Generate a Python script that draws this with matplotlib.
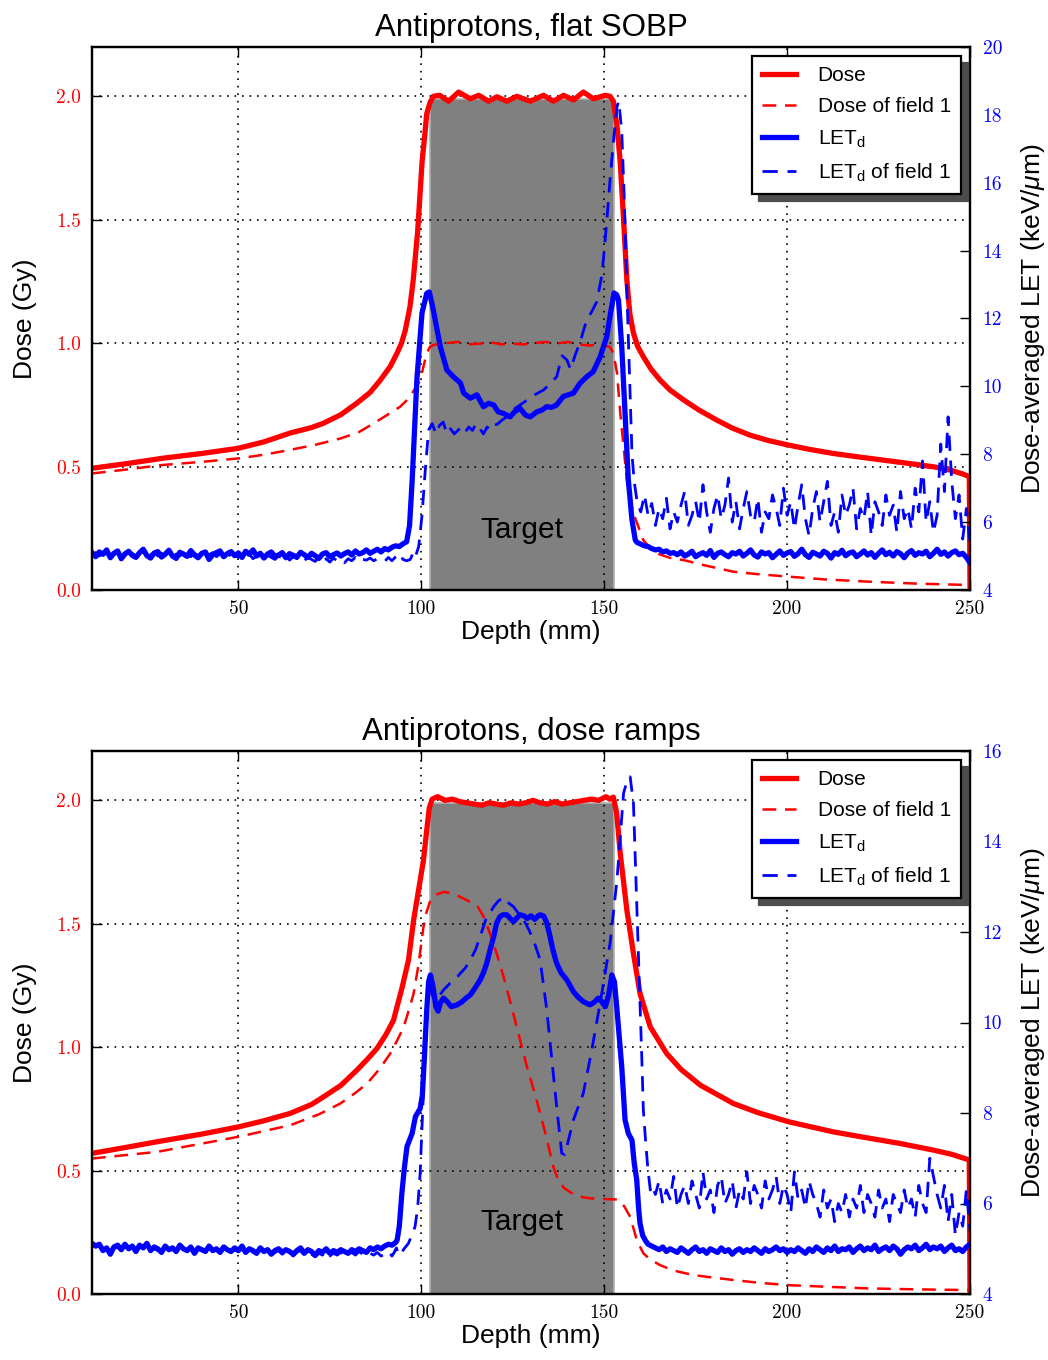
import numpy as np
import matplotlib
matplotlib.use("Agg")
from matplotlib import pyplot as plt
from matplotlib.patches import Shadow

# ---------------- top panel: flat SOBP ----------------
dose_top_depth = [10, 20, 29.5, 40, 50, 57, 64.2, 70, 73.2, 78, 82.4, 86, 88.8, 91.5, 93.4,
                  94.6, 95.6, 96.9, 97.8, 99.0, 100.2, 101.0, 101.5, 102.4, 103.3, 105.0, 107.5,
                  110.2, 113.4, 115.7, 118.4, 120.7, 123.4, 126.1, 129.8, 133.4, 136.1, 138.9,
                  141.6, 144.3, 147.1, 150.3, 151.6, 152.5, 153.5, 154.4, 155.3, 156.2, 157.0,
                  158.0, 159.2, 160.7, 162.8, 165.3, 168.0, 171.7, 176.0, 180.8, 185.0, 189.9,
                  195.0, 200.4, 206.0, 212.6, 219.0, 226.3, 233.0, 240.0, 244.5, 248.0, 249.8, 250.0]
dose_top = [0.493, 0.513, 0.534, 0.553, 0.574, 0.600, 0.636, 0.658, 0.675, 0.71, 0.757, 0.80,
            0.85, 0.905, 0.96, 1.00, 1.05, 1.146, 1.255, 1.45, 1.73, 1.85, 1.93, 1.975, 2.0,
            2.004, 1.98, 2.017, 1.99, 2.004, 1.98, 1.998, 1.98, 2.0, 1.98, 2.004, 1.98, 2.004,
            1.985, 2.017, 1.99, 2.004, 2.0, 1.98, 1.88, 1.73, 1.50, 1.255, 1.12, 1.04, 0.985,
            0.945, 0.895, 0.85, 0.81, 0.77, 0.728, 0.688, 0.656, 0.627, 0.605, 0.587, 0.570,
            0.553, 0.540, 0.526, 0.513, 0.499, 0.486, 0.470, 0.459, 0.0]

dose1_top_depth = [10, 20, 29, 40, 50, 57, 64, 71, 78, 83, 87, 91, 94.2, 96.5, 98.5, 99.7, 100.6,
                   101.5, 102.4, 103.3, 105, 107, 110, 113, 116, 119, 122, 125, 128, 131, 134,
                   137, 140, 143, 146, 148, 150, 151.5, 152.5, 153.5, 154.4, 155.3, 156.2, 157,
                   158, 159.5, 160.7, 162.6, 165, 168, 171.7, 178, 185.3, 192, 200.4, 210, 221.8,
                   235, 250]
dose1_top = [0.472, 0.489, 0.506, 0.519, 0.533, 0.548, 0.567, 0.588, 0.614, 0.640, 0.675, 0.712,
             0.742, 0.775, 0.82, 0.85, 0.905, 0.96, 0.985, 0.992, 0.998, 1.0, 1.005, 0.995,
             0.998, 1.003, 0.995, 0.998, 0.995, 1.0, 1.005, 0.998, 1.005, 0.995, 0.99, 0.995,
             0.99, 0.985, 0.96, 0.88, 0.716, 0.58, 0.445, 0.37, 0.31, 0.25, 0.202, 0.17, 0.145,
             0.13, 0.121, 0.098, 0.074, 0.064, 0.054, 0.043, 0.034, 0.026, 0.02]

# LET_d, 1 mm steps before (10..96) and after (159..250) the target
let_top_left = [5.10, 4.98, 5.12, 5.05, 5.18, 4.95, 5.08, 5.15, 4.92, 5.06,
                5.14, 5.02, 4.96, 5.10, 5.20, 5.01, 4.94, 5.09, 5.13, 4.97,
                5.05, 5.17, 5.00, 4.93, 5.11, 5.06, 4.99, 5.16, 5.03, 4.95,
                5.08, 5.12, 4.90, 5.04, 5.10, 5.15, 4.98, 5.07, 5.13, 5.01,
                5.09, 4.96, 5.14, 5.05, 5.18, 5.00, 5.08, 4.94, 5.06, 5.12,
                4.99, 5.03, 5.10, 4.95, 5.07, 5.02, 4.97, 5.11, 5.04, 4.96,
                5.08, 5.01, 4.93, 5.06, 5.10, 4.98, 5.04, 5.09, 5.00, 5.07,
                5.12, 5.03, 5.15, 5.06, 5.10, 5.18, 5.08, 5.14, 5.20, 5.12,
                5.22, 5.18, 5.26, 5.30, 5.28, 5.36, 5.42]
let_top_mid_depth = [96.8, 97.5, 98.8, 100.2, 101.5, 102.2, 103.0, 103.8, 105.2, 107.0, 108.8,
                     110.7, 111.6, 113.4, 115.2, 117.0, 118.4, 119.8, 121.0, 122.5, 124.3, 125.5,
                     127.0, 128.5, 129.8, 131.6, 133.0, 134.3, 135.6, 137.0, 138.8, 140.2, 141.6,
                     143.4, 145.2, 147.0, 148.9, 150.7, 151.8, 152.7, 153.4, 153.9, 154.8, 155.7,
                     156.6, 157.6, 158.5]
let_top_mid = [5.9, 7.2, 10.2, 12.16, 12.74, 12.78, 12.4, 11.96, 11.17, 10.48, 10.28, 10.1, 9.8,
               9.65, 9.75, 9.4, 9.5, 9.45, 9.25, 9.2, 9.1, 9.25, 9.35, 9.15, 9.1, 9.25, 9.3, 9.4,
               9.38, 9.45, 9.7, 9.75, 9.8, 10.09, 10.28, 10.43, 10.87, 11.46, 12.2, 12.75, 12.7,
               12.55, 11.17, 9.2, 7.24, 6.06, 5.47]
let_top_right = [5.40, 5.35, 5.30, 5.28, 5.22, 5.18, 5.20, 5.12, 5.15, 5.08,
                 5.10, 5.04, 5.12, 5.00, 5.06, 5.14, 4.98, 5.05, 5.10, 5.02,
                 5.16, 4.96, 5.08, 5.12, 5.04, 4.98, 5.10, 5.06, 5.14, 5.00,
                 5.08, 5.18, 5.03, 4.97, 5.12, 5.06, 5.10, 4.95, 5.05, 5.15,
                 5.02, 5.09, 5.13, 4.99, 5.07, 5.20, 5.04, 4.96, 5.11, 5.06,
                 5.00, 5.14, 5.08, 4.94, 5.10, 5.05, 5.17, 5.01, 5.09, 5.12,
                 4.98, 5.06, 5.15, 5.03, 5.10, 4.96, 5.08, 5.18, 5.04, 5.11,
                 5.00, 5.13, 5.07, 4.95, 5.09, 5.16, 5.02, 5.10, 5.06, 5.14,
                 4.98, 5.08, 5.20, 5.05, 5.12, 5.00, 5.10, 5.15, 5.04, 5.08,
                 4.96, 4.80]

let1_top_left = [5.05, 5.10, 5.00, 5.12, 5.04, 4.98, 5.10, 5.06, 5.00, 5.12,
                 5.02, 5.08, 5.00, 5.06, 5.14, 4.98, 5.04, 5.10, 5.00, 5.08,
                 5.02, 5.12, 4.96, 5.06, 5.00, 5.10, 5.04, 4.98, 5.08, 5.02,
                 5.06, 4.96, 5.04, 5.10, 4.98, 5.06, 5.00, 4.94, 5.08, 5.02,
                 4.96, 5.04, 4.98, 5.06, 4.92, 5.00, 5.04, 4.94, 5.02, 4.96,
                 4.90, 5.00, 4.94, 5.04, 4.88, 4.98, 4.92, 5.02, 4.86, 4.96,
                 4.90, 4.84, 4.96, 4.88, 4.92, 4.82, 4.94, 4.86, 4.90, 4.80,
                 4.92, 4.86, 4.96, 4.84, 4.90, 4.88, 4.94, 4.86, 4.92, 4.88,
                 4.84, 4.96, 4.86, 4.98, 5.08, 4.90, 4.86]
let1_top_mid_depth = [97.0, 97.6, 98.2, 99.3, 100.2, 101.1, 102.0, 103, 104, 105, 106, 107, 108,
                      109, 110, 111, 112, 113, 114, 115, 116, 117, 118, 119, 120, 121, 122, 123.4,
                      125, 127, 129, 131, 133.4, 135, 137, 138.5, 139.8, 140.8, 142, 143.4, 145.2,
                      146.6, 148, 149.4, 150.5, 151.6, 152.6, 153.5, 154, 154.8, 155.5, 156.2,
                      157, 157.6, 158.2]
let1_top_mid = [4.9, 5.05, 4.92, 5.28, 6.2, 7.54, 8.71, 8.9, 8.6, 8.85, 8.95, 8.6, 8.75, 8.6,
                8.7, 8.8, 8.65, 8.8, 8.7, 8.9, 8.75, 8.6, 8.8, 8.7, 8.85, 8.9, 9.0, 9.1, 9.3,
                9.45, 9.6, 9.75, 9.89, 10.05, 10.28, 10.9, 10.78, 10.5, 10.9, 11.3, 11.95, 12.2,
                12.5, 13.3, 14.6, 16.08, 17.3, 18.24, 18.4, 17.5, 15.5, 12.8, 10.0, 8.0, 7.2]
let1_top_right = [6.60, 6.30, 6.80, 6.20, 6.55, 5.90, 6.40, 6.10, 6.70, 5.80,
                  6.30, 6.00, 6.50, 6.90, 5.90, 6.20, 6.60, 6.00, 7.10, 6.30,
                  5.70, 6.40, 6.80, 6.10, 6.50, 7.30, 6.00, 6.60, 5.80, 6.40,
                  6.90, 6.20, 6.00, 6.70, 5.70, 6.30, 6.10, 6.80, 6.40, 5.90,
                  7.00, 6.20, 6.60, 5.80, 6.50, 7.10, 6.10, 5.60, 6.40, 6.90,
                  6.00, 6.60, 7.20, 5.90, 6.30, 5.70, 6.80, 6.20, 6.50, 7.00,
                  5.80, 6.40, 6.10, 6.90, 5.60, 6.60, 6.30, 5.90, 6.80, 6.20,
                  6.50, 5.70, 6.90, 6.10, 6.40, 5.80, 7.00, 6.30, 7.80, 6.00,
                  6.60, 5.70, 6.20, 8.30, 6.90, 9.10, 7.20, 6.10, 6.80, 5.50,
                  6.40, 5.40]

# ---------------- bottom panel: dose ramps ----------------
dose_bot_depth = [10, 20, 27.8, 40, 50, 57, 64.2, 70, 73.3, 78, 82.4, 85.5, 87.9, 90.3, 92.4,
                  94.8, 96.5, 97.9, 99.7, 100.6, 101.5, 102.2, 103.0, 104.5, 106.5, 108.5, 110.5,
                  112.5, 114.5, 116.5, 118.5, 120.5, 122.5, 124.5, 126.5, 128.5, 130.5, 132.5,
                  134.5, 136.5, 138.5, 140.5, 142.5, 144.5, 146.5, 148.5, 150.5, 151.5, 152.5,
                  153.4, 154.4, 156.2, 158.0, 159.8, 162.6, 167.1, 171.0, 176.3, 185.3, 192.0,
                  200.4, 212.6, 221.0, 230.9, 240.0, 245.0, 249.8, 250.0]
dose_bot = [0.570, 0.596, 0.617, 0.648, 0.677, 0.702, 0.732, 0.768, 0.799, 0.845, 0.907, 0.955,
            0.995, 1.05, 1.109, 1.244, 1.352, 1.514, 1.676, 1.757, 1.88, 1.97, 2.005, 2.015,
            2.0, 2.005, 1.995, 1.99, 1.985, 1.98, 1.99, 1.985, 1.98, 1.99, 1.985, 1.99, 2.0,
            1.99, 1.985, 1.995, 1.985, 1.99, 1.995, 2.0, 2.005, 2.0, 2.015, 2.005, 2.013, 1.95,
            1.784, 1.555, 1.379, 1.217, 1.082, 0.974, 0.91, 0.846, 0.772, 0.735, 0.698, 0.657,
            0.635, 0.61, 0.583, 0.566, 0.543, 0.0]

dose1_bot_depth = [10, 27.8, 50, 64.2, 72, 77.9, 82, 85.2, 88.5, 91.5, 93.5, 95.2, 96.8, 97.9,
                   99.2, 100.6, 101.5, 102.5, 104.0, 106.1, 108.0, 110.5, 112.5, 115.2, 117.0,
                   118.8, 120.6, 122.5, 124.3, 126.1, 128.9, 130.7, 132.5, 134.3, 136.1, 137.5,
                   139.0, 141.0, 143.0, 146.0, 150.0, 153.8, 155.5, 157.1, 158.9, 160.7, 162.6,
                   165.3, 169.0, 174.4, 180.0, 185.3, 192.0, 200.4, 210.0, 221.8, 235.0, 250.0]
dose1_bot = [0.549, 0.576, 0.637, 0.684, 0.728, 0.772, 0.815, 0.853, 0.91, 0.974, 1.03, 1.082,
             1.16, 1.217, 1.33, 1.487, 1.55, 1.595, 1.618, 1.629, 1.625, 1.61, 1.595, 1.575,
             1.53, 1.46, 1.38, 1.285, 1.185, 1.082, 0.92, 0.83, 0.732, 0.63, 0.515, 0.46, 0.43,
             0.41, 0.395, 0.388, 0.385, 0.383, 0.355, 0.313, 0.219, 0.165, 0.14, 0.117, 0.095,
             0.077, 0.066, 0.057, 0.046, 0.036, 0.03, 0.023, 0.019, 0.016]

# LET_d, 1 mm steps before (10..93) and after (162..250) the target
let_bot_left = [5.12, 5.06, 5.10, 4.96, 5.02, 4.88, 5.04, 5.08, 4.98, 5.10,
                5.00, 5.06, 4.94, 5.08, 5.02, 5.12, 4.96, 5.04, 5.00, 4.92,
                5.06, 4.98, 5.02, 4.94, 5.08, 5.00, 4.96, 5.04, 4.90, 5.02,
                4.98, 4.94, 5.06, 4.96, 5.00, 4.92, 5.04, 4.98, 4.94, 5.02,
                4.96, 5.06, 4.92, 5.00, 4.96, 4.90, 5.02, 4.94, 4.98, 4.88,
                4.96, 5.00, 4.92, 4.98, 4.94, 4.88, 4.96, 5.02, 4.90, 4.98,
                4.94, 4.86, 4.96, 4.92, 5.00, 4.90, 4.96, 4.92, 4.98, 4.94,
                4.90, 4.98, 4.94, 5.00, 4.96, 4.92, 5.02, 4.98, 5.04, 5.00,
                5.06, 5.10, 5.08, 5.14]
let_bot_mid_depth = [93.4, 94.0, 94.7, 95.4, 96.1, 97.5, 98.4, 99.7, 100.3, 100.9, 101.5, 102.0,
                     102.5, 103.2, 104.0, 104.6, 105.3, 106.1, 107.2, 108.2, 109.8, 111.0, 112.4,
                     113.4, 114.6, 116.1, 117.0, 117.9, 118.8, 119.8, 120.6, 121.5, 122.3, 123.4,
                     124.3, 125.2, 126.0, 127.0, 128.0, 129.0, 130.0, 131.0, 132.0, 132.5, 133.5,
                     134.3, 135.2, 136.0, 137.0, 138.2, 139.8, 141.6, 143.0, 144.3, 146.1, 147.3,
                     148.4, 149.4, 150.3, 151.2, 152.1, 152.8, 153.5, 154.2, 154.8, 155.7, 156.6,
                     157.6, 158.2, 158.9, 159.4, 159.8, 160.5, 161.2]
let_bot_mid = [5.19, 5.5, 6.23, 6.8, 7.26, 7.55, 7.92, 8.1, 8.4, 9.3, 10.28, 10.9, 11.05, 10.8,
               10.35, 10.25, 10.45, 10.54, 10.45, 10.35, 10.39, 10.45, 10.55, 10.61, 10.75,
               10.94, 11.1, 11.31, 11.6, 11.9, 12.2, 12.34, 12.38, 12.38, 12.3, 12.23, 12.3,
               12.38, 12.36, 12.3, 12.36, 12.28, 12.36, 12.38, 12.35, 12.2, 11.9, 11.6, 11.31,
               11.1, 10.94, 10.68, 10.55, 10.46, 10.39, 10.45, 10.54, 10.45, 10.35, 10.6, 11.05,
               10.9, 10.28, 9.6, 9.02, 7.85, 7.55, 7.4, 6.9, 6.52, 5.9, 5.56, 5.3, 5.19]
let_bot_right = [5.10, 5.06, 5.02, 4.98, 5.04, 4.94, 5.00, 4.96, 4.92, 5.02,
                 4.96, 4.90, 4.98, 5.04, 4.94, 4.98, 4.90, 5.00, 4.96, 4.92,
                 5.02, 4.94, 4.98, 4.88, 4.96, 5.00, 4.92, 4.98, 4.94, 5.02,
                 4.96, 4.90, 5.00, 4.94, 4.98, 5.04, 4.96, 5.00, 4.92, 4.98,
                 4.94, 5.02, 4.96, 4.90, 5.00, 4.94, 5.04, 4.98, 4.92, 5.02,
                 4.96, 5.06, 4.94, 5.00, 4.98, 5.04, 4.92, 5.00, 5.06, 4.96,
                 5.02, 4.98, 5.08, 4.94, 5.00, 5.04, 4.96, 5.06, 5.00, 4.88,
                 4.98, 5.04, 5.00, 5.08, 4.96, 5.02, 5.10, 4.98, 5.04, 5.00,
                 5.06, 4.94, 5.02, 5.08, 4.96, 5.00, 4.94, 5.04, 5.10]

let1_bot_left = [5.08, 5.04, 5.12, 5.00, 4.96, 4.92, 5.06, 5.02, 5.00, 5.06,
                 4.98, 5.04, 4.96, 5.02, 5.06, 5.08, 4.98, 5.00, 4.96, 4.94,
                 5.02, 5.00, 4.98, 4.96, 5.04, 4.98, 4.94, 5.00, 4.92, 4.98,
                 5.00, 4.96, 5.02, 4.94, 4.98, 4.90, 5.00, 4.96, 4.92, 4.98,
                 4.94, 5.00, 4.90, 4.96, 4.92, 4.88, 4.98, 4.92, 4.94, 4.86,
                 4.92, 4.96, 4.88, 4.94, 4.90, 4.84, 4.92, 4.96, 4.86, 4.92,
                 4.88, 4.82, 4.90, 4.86, 4.94, 4.84, 4.90, 4.86, 4.92, 4.88,
                 4.84, 4.92, 4.86, 4.94, 4.88, 4.84, 4.90, 4.86, 4.92, 4.84,
                 4.88, 4.94, 4.84]
let1_bot_mid_depth = [92.6, 93.2, 93.8, 94.5, 95.3, 96.5, 97.4, 98.3, 99.0, 99.7, 100.2, 100.6,
                      101.5, 102.3, 103.0, 104.0, 105.0, 106.1, 107.9, 109.3, 110.7, 112.0, 113.4,
                      114.8, 116.1, 117.9, 119.0, 119.8, 121.0, 122.0, 122.7, 123.4, 125.2, 126.5,
                      128.0, 129.4, 130.7, 132.5, 134.3, 135.7, 137.1, 138.4, 139.2, 139.8, 141.6,
                      144.3, 146.6, 148.9, 151.6, 153.5, 155.3, 156.3, 157.1, 158.0, 158.5, 159.4,
                      160.3, 160.7, 161.3, 161.9, 162.6]
let1_bot_mid = [4.92, 5.02, 4.86, 4.9, 5.0, 5.12, 5.3, 5.49, 5.9, 6.67, 7.7, 8.44, 10.28, 10.9,
                10.6, 10.5, 10.6, 10.72, 10.87, 10.95, 11.09, 11.2, 11.38, 11.6, 11.9, 12.34,
                12.45, 12.56, 12.68, 12.74, 12.65, 12.67, 12.56, 12.42, 12.27, 12.05, 11.82,
                11.38, 10.28, 9.17, 8.07, 7.11, 7.08, 7.26, 7.85, 8.44, 9.39, 10.43, 11.75, 13.15,
                15.07, 15.35, 15.43, 14.84, 13.59, 11.38, 9.17, 8.07, 7.4, 6.8, 6.3]
let1_bot_right = [6.40, 6.20, 6.50, 6.00, 6.30, 6.10, 6.60, 5.90, 6.20, 6.40,
                  6.00, 6.50, 6.20, 5.90, 6.70, 6.10, 6.30, 5.80, 6.40, 6.60,
                  6.00, 6.20, 6.50, 5.90, 6.30, 6.10, 6.70, 6.00, 6.40, 6.20,
                  5.90, 6.50, 6.10, 6.30, 6.60, 6.00, 6.40, 6.20, 5.80, 6.70,
                  6.10, 6.30, 5.90, 6.50, 6.20, 6.00, 5.70, 6.30, 5.90, 6.10,
                  5.60, 6.00, 5.80, 6.20, 5.70, 6.10, 5.90, 6.40, 5.80, 6.20,
                  6.00, 5.70, 6.30, 5.90, 6.10, 5.60, 6.20, 6.00, 5.80, 6.30,
                  5.90, 6.10, 5.70, 6.40, 6.00, 5.80, 7.00, 6.60, 6.20, 5.90,
                  6.40, 5.60, 6.20, 5.30, 5.80, 5.50, 6.30, 5.40]

# target region (mm) and its planned dose (Gy)
target_start = 102.5
target_end = 152.7
target_dose = 1.99

plt.rcParams['font.family'] = 'Liberation Sans'
plt.rcParams['mathtext.fontset'] = 'custom'
plt.rcParams['mathtext.rm'] = 'Liberation Sans'
plt.rcParams['mathtext.it'] = 'Liberation Sans:italic'
plt.rcParams['mathtext.bf'] = 'Liberation Sans:bold'
plt.rcParams['axes.formatter.use_mathtext'] = False

tick_font = 'cmr10'
dotted = (0, (1, 3.5))
dashed = (0, (5.5, 3.5))


def draw_panel(ax, title, let_top, target_text_y,
               dose_d, dose, dose1_d, dose1, let_d, let, let1_d, let1):
    ax2 = ax.twinx()

    ax.fill_between([target_start, target_end], 0, target_dose,
                    facecolor='#808080', edgecolor='#b0b0b0', linewidth=1.2, zorder=1)
    ax.text((target_start + target_end) / 2, target_text_y, 'Target', fontsize=21.5,
            ha='center', va='center', zorder=3)

    l1, = ax.plot(dose_d, dose, color='red', lw=3.8, zorder=3)
    l2, = ax.plot(dose1_d, dose1, color='red', lw=1.8, linestyle=dashed, zorder=3)
    l4, = ax2.plot(let1_d, let1, color='blue', lw=2.0, linestyle=dashed)
    l3, = ax2.plot(let_d, let, color='blue', lw=3.8)

    ax.set_xlim(10, 250)
    ax.set_ylim(0, 2.2)
    ax2.set_ylim(4, let_top)
    ax.set_xticks([50, 100, 150, 200, 250])
    ax.set_yticks([0.0, 0.5, 1.0, 1.5, 2.0])
    ax2.set_yticks(np.arange(4, let_top + 1, 2))

    ax.grid(True, color='k', linestyle=dotted, linewidth=1.2)
    ax.tick_params(direction='in', length=7, width=1, top=True, right=False, labelsize=14)
    ax.tick_params(axis='x', pad=7)
    ax.tick_params(axis='y', pad=8)
    ax2.tick_params(direction='in', length=7, width=1, labelsize=14, pad=9)
    for lab in ax.get_yticklabels():
        lab.set_color('red')
        lab.set_fontfamily(tick_font)
    for lab in ax.get_xticklabels():
        lab.set_fontfamily(tick_font)
    for lab in ax2.get_yticklabels():
        lab.set_color('blue')
        lab.set_fontfamily(tick_font)
    for a in (ax, ax2):
        for s in a.spines.values():
            s.set_linewidth(1.6)

    ax.set_xlabel('Depth (mm)', fontsize=19, labelpad=2)
    ax.set_ylabel('Dose (Gy)', fontsize=19, labelpad=14)
    ax2.set_ylabel(r'Dose-averaged LET (keV/$\mu$m)', fontsize=19, labelpad=12)
    ax.set_title(title, fontsize=22.5, pad=8)

    leg = ax2.legend([l1, l2, l3, l4],
                     ['Dose', 'Dose of field 1', r'LET$_\mathrm{d}$', r'LET$_\mathrm{d}$ of field 1'],
                     loc='upper right', fontsize=15, fancybox=False, framealpha=1,
                     edgecolor='k', handlelength=1.6, handletextpad=1.05, labelspacing=0.58,
                     borderpad=0.5, borderaxespad=0.42)
    leg.get_frame().set_linewidth(1.6)
    sh = Shadow(leg.legendPatch, 5, -5, facecolor='0.3', edgecolor='0.3', alpha=1.0)
    sh.set_zorder(leg.get_zorder() - 0.1)
    ax2.add_artist(sh)


fig = plt.figure(figsize=(10.48, 13.6), dpi=100)
ax_top = fig.add_axes([0.0878, 0.5662, 0.8378, 0.3993])
ax_bot = fig.add_axes([0.0878, 0.0485, 0.8378, 0.3993])

let_top_depth = np.concatenate([np.arange(10, 97), let_top_mid_depth, np.arange(159, 251)])
let1_top_depth = np.concatenate([np.arange(10, 97), let1_top_mid_depth, np.arange(159, 251)])
let_bot_depth = np.concatenate([np.arange(10, 94), let_bot_mid_depth, np.arange(162, 251)])
let1_bot_depth = np.concatenate([np.arange(10, 93), let1_bot_mid_depth, np.arange(163, 251)])

draw_panel(ax_top, 'Antiprotons, flat SOBP', 20, 0.243,
           dose_top_depth, dose_top, dose1_top_depth, dose1_top,
           let_top_depth, let_top_left + let_top_mid + let_top_right,
           let1_top_depth, let1_top_left + let1_top_mid + let1_top_right)
draw_panel(ax_bot, 'Antiprotons, dose ramps', 16, 0.29,
           dose_bot_depth, dose_bot, dose1_bot_depth, dose1_bot,
           let_bot_depth, let_bot_left + let_bot_mid + let_bot_right,
           let1_bot_depth, let1_bot_left + let1_bot_mid + let1_bot_right)

fig.canvas.draw()
fig.savefig('out.png', dpi=100)
